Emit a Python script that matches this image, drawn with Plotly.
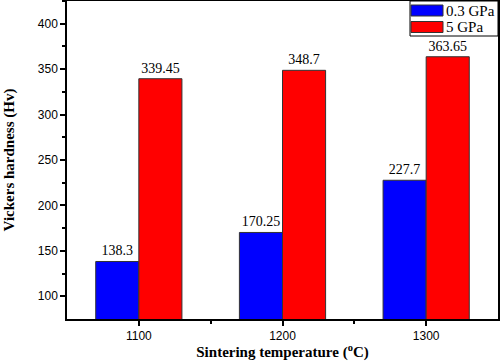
import plotly.graph_objects as go

temps = [1100, 1200, 1300]
low_p = [138.3, 170.25, 227.7]
high_p = [339.45, 348.7, 363.65]
low_labels = ["138.3", "170.25", "227.7"]
high_labels = ["339.45", "348.7", "363.65"]
series_names = ["0.3 GPa", "5 GPa"]
series_colors = ["#0000FF", "#FF0000"]

serif = "Liberation Serif"
sans = "Liberation Sans"

W, H = 500, 361
ML, MR, MT, MB = 67, 2, 1, 42
PW, PH = W - ML - MR, H - MT - MB


def px_x(px):
    return (px - ML) / PW


def px_y(py):
    return (H - MB - py) / PH


fig = go.Figure()
for vals, labels, name, color in [(low_p, low_labels, series_names[0], series_colors[0]),
                                  (high_p, high_labels, series_names[1], series_colors[1])]:
    fig.add_trace(go.Bar(x=temps, y=vals, name=name,
                         marker=dict(color=color, line=dict(color="#333333", width=1)),
                         text=labels, textposition="outside",
                         textfont=dict(family=serif, size=14, color="black"),
                         cliponaxis=False, showlegend=False))

# manual legend box (top right)
shapes = [dict(type="rect", xref="paper", yref="paper", x0=px_x(410), x1=1.0, y0=px_y(36), y1=1.0,
               line=dict(color="black", width=1), fillcolor="white", layer="above")]
annotations = []
for i, (name, color) in enumerate(zip(series_names, series_colors)):
    top = 5 + i * 16.5
    shapes.append(dict(type="rect", xref="paper", yref="paper", x0=px_x(411), x1=px_x(443),
                       y0=px_y(top + 11), y1=px_y(top), line=dict(color="#333333", width=1),
                       fillcolor=color, layer="above"))
    annotations.append(dict(xref="paper", yref="paper", x=px_x(444), y=px_y(top + 5.5), text=name,
                            showarrow=False, xanchor="left", yanchor="middle",
                            font=dict(family=serif, size=15, color="black")))

fig.update_layout(
    width=W, height=H,
    margin=dict(l=ML, r=MR, t=MT, b=MB),
    paper_bgcolor="white", plot_bgcolor="white",
    barmode="group", bargap=0.4, bargroupgap=0,
    showlegend=False,
    shapes=shapes, annotations=annotations,
    xaxis=dict(range=[1050, 1350], tickvals=temps, ticktext=[str(t) for t in temps],
               ticks="outside", ticklen=5, tickwidth=1.5, tickcolor="black",
               minor=dict(tickvals=[1150, 1250], ticks="outside", ticklen=3, tickwidth=1.5, tickcolor="black"),
               showline=True, linecolor="black", linewidth=1.5, mirror=True, showgrid=False, zeroline=False,
               tickfont=dict(family=sans, size=12, color="black"), automargin=False,
               title=dict(text="Sintering temperature (<sup>o</sup>C)", standoff=6,
                          font=dict(family=serif, size=15, color="black", weight="bold"))),
    yaxis=dict(range=[75, 425], tickvals=[100, 150, 200, 250, 300, 350, 400],
               ticks="outside", ticklen=5, tickwidth=1.5, tickcolor="black",
               minor=dict(tickvals=[125, 175, 225, 275, 325, 375, 425], ticks="outside", ticklen=3, tickwidth=1.5, tickcolor="black"),
               showline=True, linecolor="black", linewidth=1.5, mirror=True, showgrid=False, zeroline=False,
               tickfont=dict(family=sans, size=12, color="black"), automargin=False,
               title=dict(text="Vickers hardness (Hv)", standoff=20,
                          font=dict(family=serif, size=15, color="black", weight="bold"))),
)

fig.write_html("out.html", config={"displayModeBar": False},
               post_script="document.body.style.margin='0';document.body.style.padding='0';")
